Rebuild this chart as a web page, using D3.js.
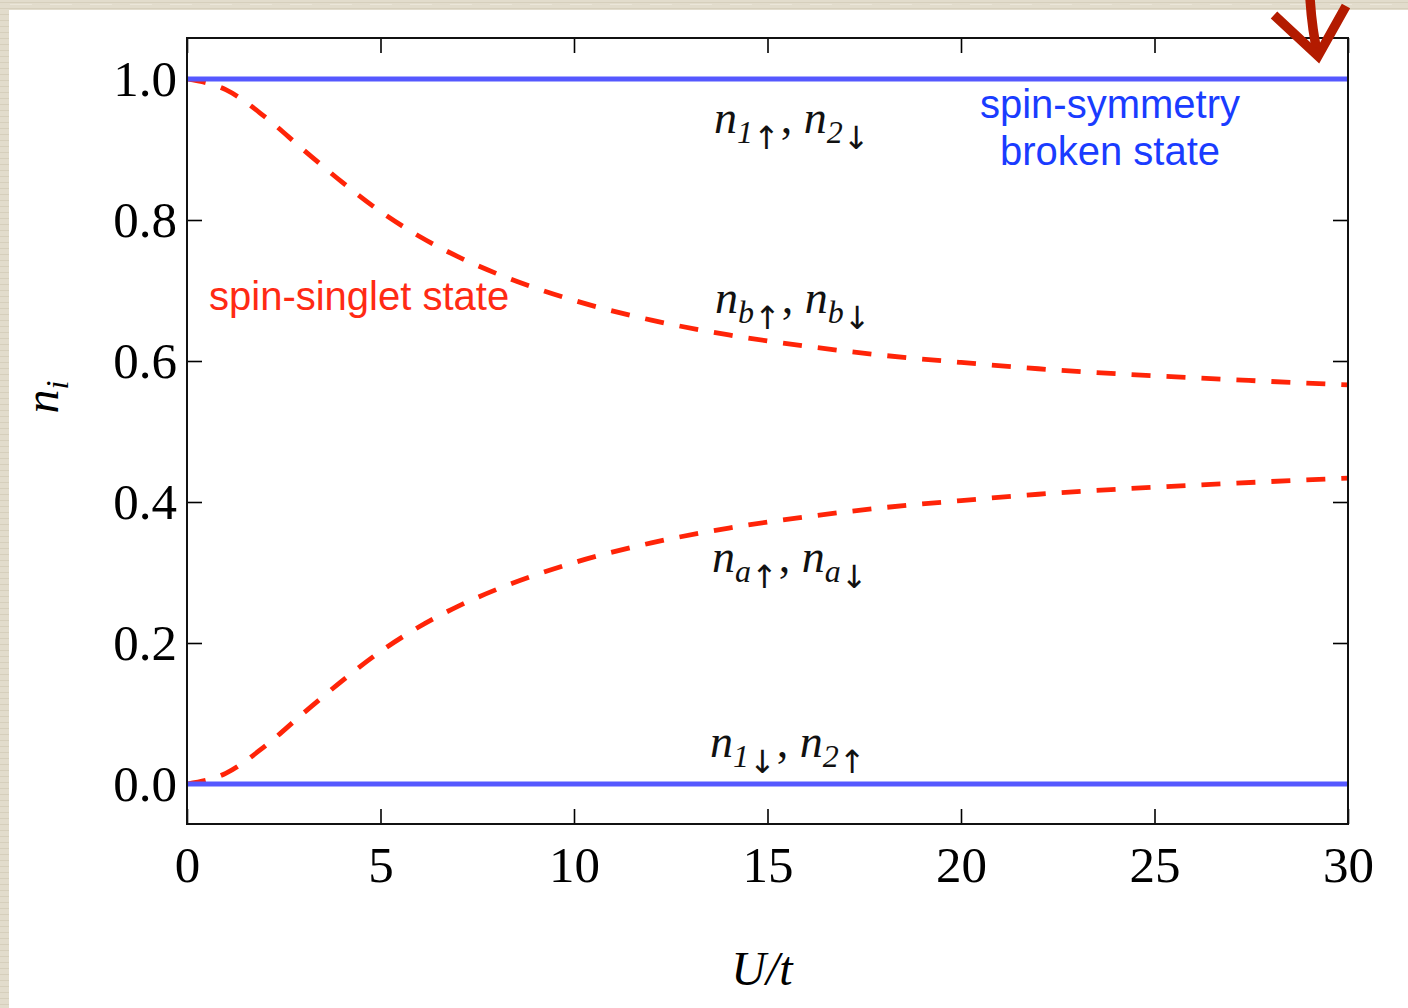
<!DOCTYPE html>
<html>
<head>
<meta charset="utf-8">
<script src="https://cdn.jsdelivr.net/npm/d3@7"></script>
<style>
  html, body { margin: 0; padding: 0; background: #ffffff; }
  svg { display: block; }
</style>
</head>
<body>
<svg id="chart" width="1408" height="1008"></svg>
<script>
// Interaction strength U/t
const uValues = [0, 1, 2, 3, 4, 5, 6, 7, 8, 10, 12, 14, 16, 18, 20, 22, 25, 28, 30];
// Spin-singlet state: bonding-orbital occupation n_b (per spin)
const nBonding = [1.000, 0.985, 0.947, 0.900, 0.854, 0.812, 0.777, 0.748, 0.724, 0.686,
                  0.658, 0.637, 0.621, 0.608, 0.598, 0.589, 0.579, 0.571, 0.566];
// Spin-singlet state: antibonding-orbital occupation n_a (per spin)
const nAntibonding = [0.000, 0.015, 0.053, 0.100, 0.146, 0.188, 0.223, 0.252, 0.276, 0.314,
                      0.342, 0.363, 0.379, 0.392, 0.402, 0.411, 0.421, 0.429, 0.434];
// Spin-symmetry broken state: site occupations
const brokenU = [0, 30];
const nOccupied = [1.0, 1.0];
const nEmpty = [0.0, 0.0];

const xTicks = [0, 5, 10, 15, 20, 25, 30];
const yTicks = [0.0, 0.2, 0.4, 0.6, 0.8, 1.0];

const svg = d3.select("#chart");
const W = 1408, H = 1008;

// paper-textured border strips
const defs = svg.append("defs");
const pat = defs.append("pattern").attr("id", "paper")
  .attr("width", 40).attr("height", 6).attr("patternUnits", "userSpaceOnUse");
pat.append("rect").attr("width", 40).attr("height", 6).attr("fill", "#e2dccc");
pat.append("rect").attr("y", 2).attr("width", 40).attr("height", 1).attr("fill", "#d6cfbc");
pat.append("rect").attr("x", 10).attr("y", 4).attr("width", 22).attr("height", 1).attr("fill", "#ebe6d9");
svg.append("rect").attr("width", W).attr("height", H).attr("fill", "url(#paper)");
svg.append("rect").attr("x", 9).attr("y", 10).attr("width", W - 9).attr("height", H - 10).attr("fill", "#ffffff");

const plot = { left: 187, right: 1348, top: 38, bottom: 824 };
const x = d3.scaleLinear().domain([0, 30]).range([plot.left, plot.right]);
const y = d3.scaleLinear().domain([0, 1]).range([784, 79]);

const serif = "'Liberation Serif', 'Times New Roman', serif";
const sans = "'Liberation Sans', Arial, sans-serif";

// axes with inward ticks on all four sides
function styleAxis(g) {
  g.selectAll("path.domain").remove();
  g.selectAll(".tick line").attr("stroke", "#000").attr("stroke-width", 1.6);
  g.selectAll(".tick text").attr("font-family", serif).attr("font-size", 51).attr("fill", "#000");
}
svg.append("g").attr("transform", `translate(0,${plot.bottom})`)
  .call(d3.axisBottom(x).tickValues(xTicks).tickSizeInner(-15).tickSizeOuter(0).tickPadding(22).tickFormat(d3.format("d")))
  .call(styleAxis);
svg.append("g").attr("transform", `translate(0,${plot.top})`)
  .call(d3.axisTop(x).tickValues(xTicks).tickSizeInner(-15).tickSizeOuter(0).tickFormat(""))
  .call(styleAxis);
svg.append("g").attr("transform", `translate(${plot.left},0)`)
  .call(d3.axisLeft(y).tickValues(yTicks).tickSizeInner(-15).tickSizeOuter(0).tickPadding(10).tickFormat(d3.format(".1f")))
  .call(styleAxis);
svg.append("g").attr("transform", `translate(${plot.right},0)`)
  .call(d3.axisRight(y).tickValues(yTicks).tickSizeInner(-15).tickSizeOuter(0).tickFormat(""))
  .call(styleAxis);

// curves
const line = d3.line().x(d => x(d[0])).y(d => y(d[1])).curve(d3.curveMonotoneX);
const red = "#ff2408";
const blue = "#5558ff";

[nBonding, nAntibonding].forEach(vals => {
  svg.append("path")
    .attr("d", line(uValues.map((u, i) => [u, vals[i]])))
    .attr("fill", "none").attr("stroke", red).attr("stroke-width", 4.8)
    .attr("stroke-dasharray", "19 16");
});
[nOccupied, nEmpty].forEach(vals => {
  svg.append("path")
    .attr("d", line(brokenU.map((u, i) => [u, vals[i]])))
    .attr("fill", "none").attr("stroke", blue).attr("stroke-width", 5);
});

// plot frame
svg.append("rect")
  .attr("x", plot.left).attr("y", plot.top)
  .attr("width", plot.right - plot.left).attr("height", plot.bottom - plot.top)
  .attr("fill", "none").attr("stroke", "#111").attr("stroke-width", 2);

// axis titles
svg.append("text").attr("x", 762).attr("y", 985).attr("text-anchor", "middle")
  .attr("font-family", serif).attr("font-style", "italic").attr("font-size", 48)
  .text("U/t");
const ylab = svg.append("text").attr("transform", "translate(58,397) rotate(-90)")
  .attr("text-anchor", "middle").attr("font-family", serif).attr("font-style", "italic").attr("font-size", 48);
ylab.append("tspan").text("n");
ylab.append("tspan").attr("font-size", 32).attr("dy", 10).text("i");

// occupation labels with spin arrows
function occLabel(xPos, yPos, parts) {
  const t = svg.append("text").attr("x", xPos).attr("y", yPos)
    .attr("font-family", serif).attr("font-size", 46).attr("fill", "#111");
  parts.forEach(([sym, sub, arrow], k) => {
    if (k > 0) t.append("tspan").attr("font-style", "normal").attr("dx", -3).text(", ");
    t.append("tspan").attr("font-style", "italic").text(sym);
    t.append("tspan").attr("font-style", "italic").attr("font-size", 32).attr("dy", 10).text(sub);
    t.append("tspan").attr("font-family", "'DejaVu Sans', sans-serif")
      .attr("font-size", 32).attr("dy", 6).text(arrow);
    t.append("tspan").attr("dy", -16).text("\u200A");
  });
}
occLabel(714, 133, [["n", "1", "↑"], ["n", "2", "↓"]]);
occLabel(715, 313, [["n", "b", "↑"], ["n", "b", "↓"]]);
occLabel(712, 572, [["n", "a", "↑"], ["n", "a", "↓"]]);
occLabel(710, 757, [["n", "1", "↓"], ["n", "2", "↑"]]);

// state annotations
svg.append("text").attr("x", 209).attr("y", 310)
  .attr("font-family", sans).attr("font-size", 40).attr("fill", "#ff2a14")
  .text("spin-singlet state");
const bl = svg.append("text").attr("text-anchor", "middle")
  .attr("font-family", sans).attr("font-size", 40).attr("fill", "#1a3cff");
bl.append("tspan").attr("x", 1110).attr("y", 118).text("spin-symmetry");
bl.append("tspan").attr("x", 1110).attr("y", 165).text("broken state");

// pointer arrow at the top right
const arrowG = svg.append("g").attr("fill", "none").attr("stroke", "#b31b00")
  .attr("stroke-width", 9.5).attr("stroke-linecap", "butt").attr("stroke-linejoin", "miter");
arrowG.append("path").attr("d", "M1310,-2 Q1312,30 1318,56");
arrowG.append("path").attr("d", "M1274,15 L1318,56 L1346,6");
</script>
</body>
</html>
